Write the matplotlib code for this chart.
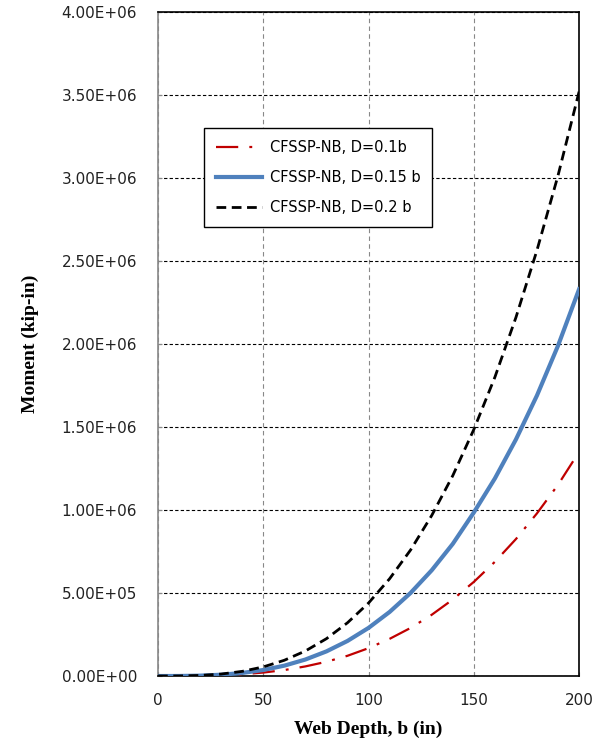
import numpy as np
import matplotlib.pyplot as plt
from matplotlib.ticker import FuncFormatter

# Web depth b (in)
web_depth = [0, 10, 20, 30, 40, 50, 60, 70, 80, 90, 100,
             110, 120, 130, 140, 150, 160, 170, 180, 190, 200]

# Moment (kip-in)
moment_d010 = [0, 170, 1300, 4500, 10800, 21000, 36000, 58000, 86000, 122000, 168000,
               224000, 290000, 369000, 461000, 567000, 688000, 825000, 980000, 1152000, 1350000]
moment_d015 = [0, 290, 2320, 7830, 18600, 36300, 62600, 99500, 148500, 211400, 290000,
               386000, 501000, 637000, 796000, 985000, 1190000, 1425000, 1690000, 1990000, 2330000]
moment_d020 = [0, 440, 3520, 11900, 28200, 55000, 95000, 151000, 225000, 321000, 440000,
               586000, 760000, 967000, 1207000, 1485000, 1800000, 2160000, 2565000, 3015000, 3520000]

labels = ['CFSSP-NB, D=0.1b', 'CFSSP-NB, D=0.15 b', 'CFSSP-NB, D=0.2 b']
x_ticks = [0, 50, 100, 150, 200]
y_ticks = np.arange(0, 4.0e6 + 1, 0.5e6)


def plot_moment():
    fig = plt.figure(figsize=(5.97, 7.47), dpi=100)
    ax = fig.add_axes([0.2647, 0.095, 0.7053, 0.889])

    ax.plot(web_depth, moment_d010, color='#C00000', lw=1.6,
            linestyle=(0, (10, 5, 1.3, 5)), label=labels[0], zorder=3)
    ax.plot(web_depth, moment_d015, color='#4F81BD', lw=3, label=labels[1], zorder=4)
    ax.plot(web_depth, moment_d020, color='black', lw=2,
            linestyle=(0, (3.5, 2)), label=labels[2], zorder=5)

    ax.set_xlim(0, 200)
    ax.set_ylim(0, 4.0e6)
    ax.set_xticks(x_ticks)
    ax.set_yticks(y_ticks)
    ax.yaxis.set_major_formatter(FuncFormatter(lambda v, p: f"{v:.2E}"))

    # Excel-style gridlines: black dashed horizontal, gray dashed vertical
    ax.yaxis.grid(True, color='black', linestyle=(0, (3, 2)), lw=0.8)
    ax.xaxis.grid(True, color='#888888', linestyle=(0, (4, 3)), lw=0.8)
    ax.set_axisbelow(True)

    for side in ['top', 'right', 'bottom']:
        ax.spines[side].set_color('black')
        ax.spines[side].set_linewidth(1.2)
    ax.spines['left'].set_color('#888888')
    ax.spines['left'].set_linewidth(1.2)

    ax.tick_params(axis='both', labelsize=11, labelcolor='#222222',
                   direction='in', length=3, color='#888888')
    ax.tick_params(axis='x', pad=12)
    ax.tick_params(axis='y', pad=15)

    ax.set_xlabel('Web Depth, b (in)', family='Liberation Serif',
                  fontweight='bold', fontsize=14, labelpad=9)
    ax.set_ylabel('Moment (kip-in)', family='Liberation Serif',
                  fontweight='bold', fontsize=14, labelpad=16)

    leg = ax.legend(loc='upper left', bbox_to_anchor=(0.109, 0.825),
                    borderaxespad=0, fontsize=10.5, fancybox=False, framealpha=1,
                    edgecolor='black', handlelength=3.2, handletextpad=0.5,
                    borderpad=0.8, labelspacing=1.05)
    leg.get_frame().set_linewidth(1.0)

    fig.savefig('out.png', dpi=100)


if __name__ == "__main__":
    plot_moment()
